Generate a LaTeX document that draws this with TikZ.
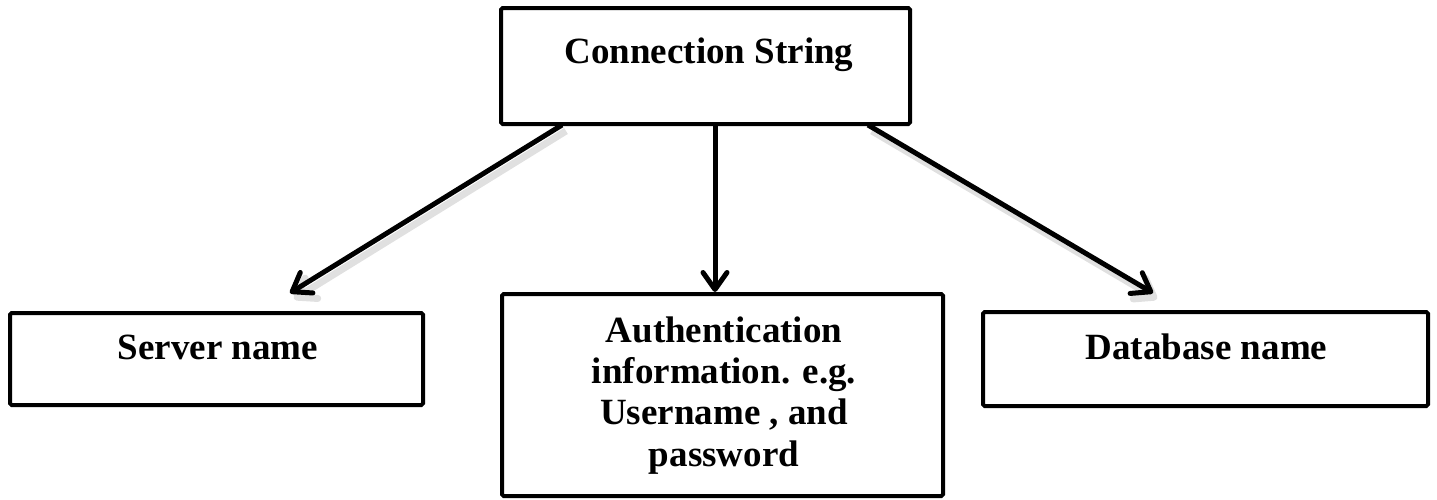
\documentclass[tikz,border=0pt]{standalone}
\usepackage{fontspec}
\setmainfont{Liberation Serif}
\usetikzlibrary{arrows.meta}
\tikzset{
  box/.style={draw=black, line width=2pt, rounded corners=0.8pt, inner sep=0pt, outer sep=0pt, rectangle},
  lbl/.style={inner sep=0pt, font=\fontsize{18.5}{20.7}\selectfont\bfseries, align=center},
  arr/.style={line width=2.5pt, -{Straight Barb[length=8.5pt,width=12pt,round]}},
  shadowarr/.style={line width=3.5pt, draw=black!12, -{Straight Barb[length=8.5pt,width=12pt,round]}}
}
\begin{document}
\begin{tikzpicture}[x=0.5pt,y=-0.5pt]
\useasboundingbox (0,0) rectangle (1437,499);
% boxes
\node[box, minimum width=204.5pt, minimum height=58pt] (cs) at (705.5,66) {};
\node[box, minimum width=206.5pt, minimum height=46pt] (srv) at (216.5,359) {};
\node[box, minimum width=220.5pt, minimum height=101pt] (auth) at (722.5,395) {};
\node[box, minimum width=222.5pt, minimum height=47pt] (db) at (1205.5,359) {};
% labels
\node[lbl, anchor=base] (cst) at (709,63) {Connection String};
\node[lbl, anchor=base] (srvt) at (218,359) {Server name};
\node[lbl, anchor=base] (dbt) at (1206.5,359) {Database name};
\node[lbl, anchor=north] (autht) at (724,316) {Authentication\\information. e.g.\\Username , and\\password};
% connector anchor points
\coordinate (c1) at (562,125);
\coordinate (c2) at (715,125);
\coordinate (c3) at (868,125);
\coordinate (t1) at (290,293);
\coordinate (t2) at (715,292);
\coordinate (t3) at (1153,293);
\coordinate (s1) at (566,131);
\coordinate (s2) at (719,131);
\coordinate (s3) at (872,131);
\coordinate (u1) at (294,299);
\coordinate (u2) at (719,296);
\coordinate (u3) at (1157,299);
\draw[shadowarr] (s1) -- (u1);
\draw[shadowarr] (s3) -- (u3);
\draw[arr] (c1) -- (t1);
\draw[arr] (c2) -- (t2);
\draw[arr] (c3) -- (t3);
\end{tikzpicture}
\end{document}
